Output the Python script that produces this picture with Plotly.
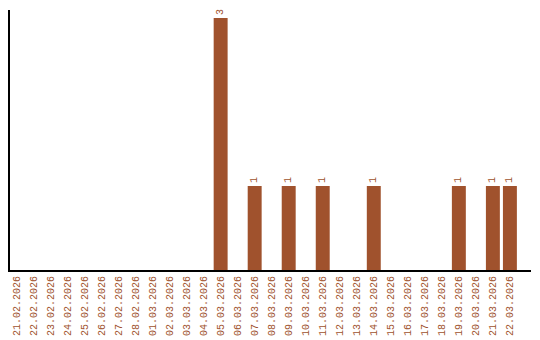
import plotly.graph_objects as go

dates = ["21.02.2026", "22.02.2026", "23.02.2026", "24.02.2026", "25.02.2026",
         "26.02.2026", "27.02.2026", "28.02.2026", "01.03.2026", "02.03.2026",
         "03.03.2026", "04.03.2026", "05.03.2026", "06.03.2026", "07.03.2026",
         "08.03.2026", "09.03.2026", "10.03.2026", "11.03.2026", "12.03.2026",
         "13.03.2026", "14.03.2026", "15.03.2026", "16.03.2026", "17.03.2026",
         "18.03.2026", "19.03.2026", "20.03.2026", "21.03.2026", "22.03.2026"]
counts = [0, 0, 0, 0, 0, 0, 0, 0, 0, 0, 0, 0, 3, 0, 1, 0, 1, 0, 1, 0,
          0, 1, 0, 0, 0, 0, 1, 0, 1, 1]

color = "#A0522D"
labels = [str(v) if v > 0 else "" for v in counts]

fig = go.Figure(go.Bar(
    x=dates, y=counts, marker_color=color, marker_line_width=0,
    text=labels, textposition="outside", textangle=-90,
    textfont=dict(family="Liberation Mono", size=10, color=color),
    cliponaxis=False,
))

fig.update_layout(
    width=540, height=340,
    margin=dict(l=10, r=9, t=10, b=70),
    plot_bgcolor="white", paper_bgcolor="white",
    bargap=0.18, showlegend=False,
    xaxis=dict(type="category", range=[-0.38, 30.24], showgrid=False,
               showline=True, linecolor="black", linewidth=2,
               tickangle=-90, ticks="", automargin=False,
               tickfont=dict(family="Liberation Mono", size=10, color=color)),
    yaxis=dict(range=[0, 3.095], showgrid=False, showline=True,
               linecolor="black", linewidth=2, showticklabels=False,
               ticks="", zeroline=False, automargin=False),
)

fig.write_html("out.html")
